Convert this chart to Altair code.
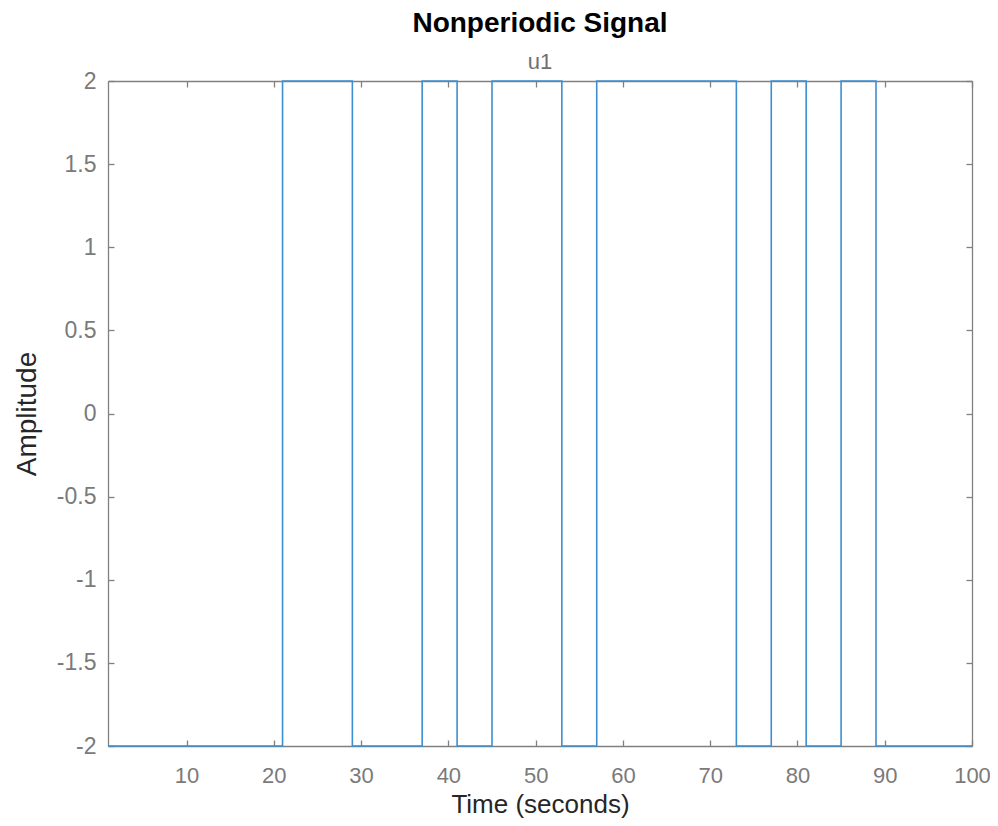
import altair as alt
import pandas as pd

# Step signal: change times and the level held from each time onward
times = [1, 21, 29, 37, 41, 45, 53, 57, 73, 77, 81, 85, 89, 100]
levels = [-2, 2, -2, 2, -2, 2, -2, 2, -2, 2, -2, 2, -2, -2]
x_ticks = [10, 20, 30, 40, 50, 60, 70, 80, 90, 100]
y_ticks = [-2, -1.5, -1, -0.5, 0, 0.5, 1, 1.5, 2]

df = pd.DataFrame({"t": times, "u": levels})

W, H = 864, 665
FONT = "Liberation Sans"
GRAY = "#808080"
LINE = "#3d8fd1"

xs = alt.Scale(domain=[1, 100], nice=False, zero=False)
ys = alt.Scale(domain=[-2, 2], nice=False, zero=False)


def tick_axis(orient, values, offset):
    # axis placed on the opposite edge so its ticks point into the plot
    return alt.Axis(orient=orient, values=values, labels=False, title=None,
                    grid=False, domain=True, domainColor=GRAY, domainWidth=1.3,
                    ticks=True, tickSize=6, tickColor=GRAY, tickWidth=1.3,
                    offset=offset)


main = alt.Chart(df).mark_line(interpolate="step-after", color=LINE, strokeWidth=1.6).encode(
    x=alt.X("t:Q", scale=xs,
            axis=alt.Axis(orient="bottom", values=x_ticks, title="Time (seconds)",
                          labelExpr="'' + datum.value",
                          grid=False, domain=False, ticks=False, labelPadding=19,
                          labelFontSize=22, labelColor="#7a7a7a", labelFont=FONT,
                          titleFontSize=26, titleFontWeight="normal", titleColor="#262626",
                          titleFont=FONT, titlePadding=5, labelFlush=False)),
    y=alt.Y("u:Q", scale=ys,
            axis=alt.Axis(orient="left", values=y_ticks, title="Amplitude",
                          labelExpr="'' + datum.value",
                          grid=False, domain=False, ticks=False, labelPadding=12,
                          labelFontSize=23, labelColor="#7a7a7a", labelFont=FONT,
                          titleFontSize=28, titleFontWeight="normal", titleColor="#262626",
                          titleFont=FONT, titlePadding=15, labelFlush=False)),
)

base = alt.Chart(df).mark_point(opacity=0)

top_in = base.encode(x=alt.X("t:Q", scale=xs, axis=tick_axis("bottom", x_ticks, -H)),
                     y=alt.Y("u:Q", scale=ys, axis=None))
bottom_in = base.encode(x=alt.X("t:Q", scale=xs, axis=tick_axis("top", x_ticks, -H)),
                        y=alt.Y("u:Q", scale=ys, axis=None))
left_in = base.encode(x=alt.X("t:Q", scale=xs, axis=None),
                      y=alt.Y("u:Q", scale=ys, axis=tick_axis("right", y_ticks, -W)))
right_in = base.encode(x=alt.X("t:Q", scale=xs, axis=None),
                       y=alt.Y("u:Q", scale=ys, axis=tick_axis("left", y_ticks, -W)))

chart = alt.layer(top_in, bottom_in, left_in, right_in, main).resolve_axis(
    x="independent", y="independent"
).properties(
    width=W, height=H,
    title=alt.Title("Nonperiodic Signal", subtitle="u1", anchor="middle",
                    font=FONT, fontSize=28, fontWeight="bold", color="#000000",
                    subtitleFont=FONT, subtitleFontSize=22, subtitleColor="#707070",
                    subtitlePadding=14, offset=-3),
    autosize=alt.AutoSizeParams(type="none"),
    padding={"left": 100, "top": 73, "right": 18, "bottom": 72},
).configure_view(strokeWidth=0).configure(background="white")

chart.save("out.html", embed_options={"renderer": "svg", "actions": False})
